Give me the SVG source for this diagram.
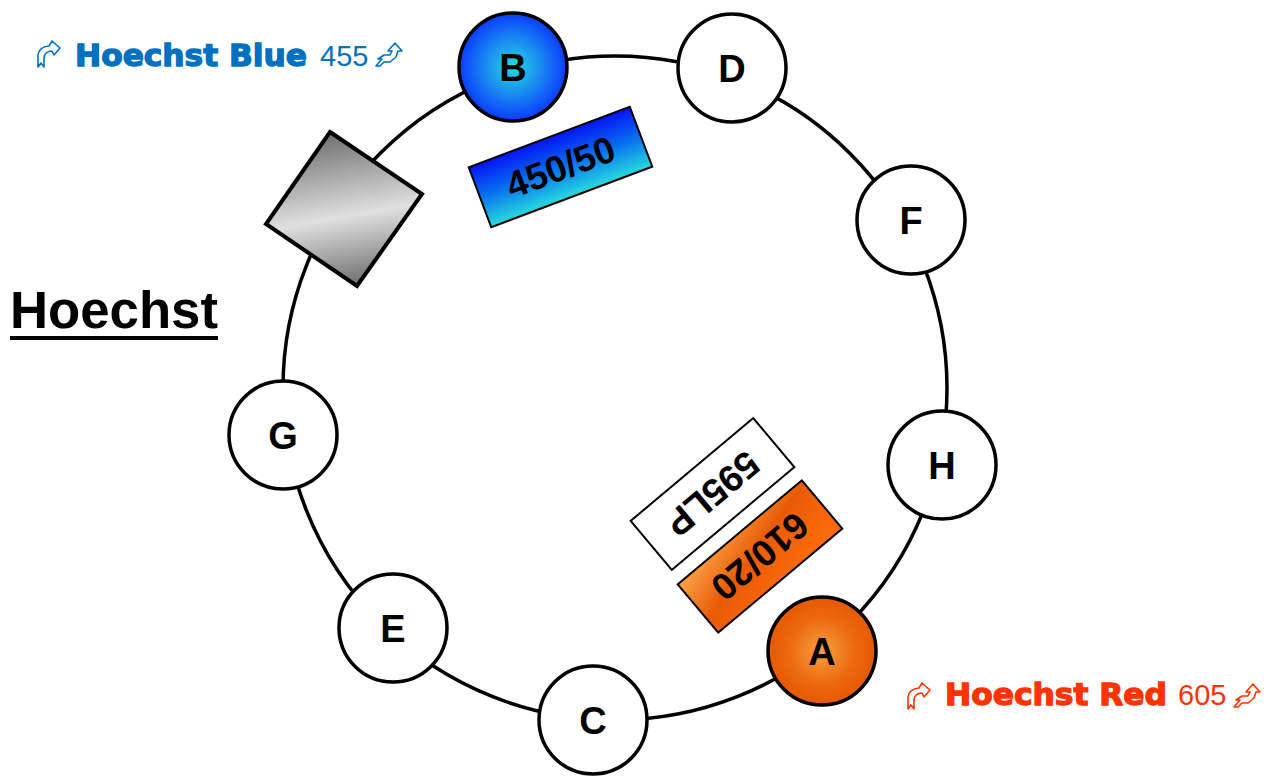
<svg xmlns="http://www.w3.org/2000/svg" xmlns:xlink="http://www.w3.org/1999/xlink" width="1279" height="777" viewBox="0 0 1279 777">
<style>
.node{stroke:#000;stroke-width:3.5}
.lbl{font-family:"Liberation Sans",Arial,sans-serif;font-weight:bold;font-size:38px;text-anchor:middle;fill:#000}
.ftxt{font-family:"Liberation Sans",Arial,sans-serif;font-weight:bold;font-size:37px;text-anchor:middle;fill:#000}
.filt{stroke:#000;stroke-width:2}
.big{font-family:"DejaVu Sans","Liberation Sans",sans-serif;font-weight:bold;font-size:30px;stroke-width:1.3}
.num{font-family:"Liberation Sans",Arial,sans-serif;font-size:29px}
.ico{fill:none;stroke-width:1.6;stroke-linejoin:round}
</style>
<defs>
<radialGradient id="gB" cx="0.5" cy="0.5" r="0.5">
<stop offset="0" stop-color="#22dde0"/>
<stop offset="0.5" stop-color="#1a8cf0"/>
<stop offset="1" stop-color="#0a3cff"/>
</radialGradient>
<radialGradient id="gA" cx="0.5" cy="0.5" r="0.5">
<stop offset="0" stop-color="#f9a042"/>
<stop offset="0.6" stop-color="#ec6a10"/>
<stop offset="1" stop-color="#e65800"/>
</radialGradient>
<linearGradient id="gSq" gradientUnits="userSpaceOnUse" x1="330" y1="132" x2="357" y2="286">
<stop offset="0" stop-color="#6e6e6e"/>
<stop offset="0.55" stop-color="#e0e0e0"/>
<stop offset="1" stop-color="#6e6e6e"/>
</linearGradient>
<linearGradient id="gBlue" x1="0" y1="0" x2="0" y2="1">
<stop offset="0" stop-color="#0414f5"/>
<stop offset="0.5" stop-color="#0a70f0"/>
<stop offset="1" stop-color="#26dcdc"/>
</linearGradient>
<linearGradient id="gOr" x1="1" y1="1" x2="0.3" y2="0">
<stop offset="0" stop-color="#fba446"/>
<stop offset="0.5" stop-color="#e85a06"/>
<stop offset="1" stop-color="#fb6a0a"/>
</linearGradient>
<path id="icoL" class="ico" d="M0,27 L0,15 Q1,7 11,6 L14,1 L22,8 L16,15 L14,11 Q7,11 6,18 L6,27 L3,23 Z"/>
<path id="icoR" class="ico" d="M19,0 L26,8 L22,8 L20,14 L14,19 L8,19 L4,23 L0,23 L6,16 L2,16 L8,12 L14,12 L16,8 L12,8 Z"/>
</defs>
<rect width="1279" height="777" fill="#fff"/>

<g id="connectors">
<circle cx="615" cy="388" r="332" fill="none" stroke="#000" stroke-width="3.5"/>
</g>

<g id="mirror">
<polygon points="330,132 422,194 357,286 266,224" fill="url(#gSq)" stroke="#000" stroke-width="4"/>
</g>

<g id="node-B"><circle class="node" cx="513" cy="67" r="54" fill="url(#gB)"/><text class="lbl" x="513" y="81">B</text></g>
<g id="node-D"><circle class="node" cx="732" cy="68" r="54" fill="#fff"/><text class="lbl" x="732" y="82">D</text></g>
<g id="node-F"><circle class="node" cx="911" cy="220" r="54" fill="#fff"/><text class="lbl" x="911" y="234">F</text></g>
<g id="node-H"><circle class="node" cx="942" cy="465" r="54" fill="#fff"/><text class="lbl" x="942" y="479">H</text></g>
<g id="node-A"><circle class="node" cx="822" cy="651" r="54" fill="url(#gA)"/><text class="lbl" x="822" y="665">A</text></g>
<g id="node-C"><circle class="node" cx="593" cy="720" r="54" fill="#fff"/><text class="lbl" x="593" y="734">C</text></g>
<g id="node-E"><circle class="node" cx="393" cy="628" r="54" fill="#fff"/><text class="lbl" x="393" y="642">E</text></g>
<g id="node-G"><circle class="node" cx="283" cy="435" r="54" fill="#fff"/><text class="lbl" x="283" y="449">G</text></g>

<g id="filter-450-50" transform="translate(560.5,167) rotate(-20.6)">
<rect class="filt" x="-86" y="-32" width="172" height="64" fill="url(#gBlue)"/>
<text class="ftxt" x="0" y="13">450/50</text>
</g>
<g id="filter-595LP" transform="translate(712.5,494) rotate(140)">
<rect class="filt" x="-80" y="-32" width="160" height="64" fill="#fff"/>
<text class="ftxt" x="0" y="13">595LP</text>
</g>
<g id="filter-610-20" transform="translate(760,556.5) rotate(140)">
<rect class="filt" x="-81" y="-31.5" width="162" height="63" fill="url(#gOr)"/>
<text class="ftxt" x="0" y="13">610/20</text>
</g>

<g id="title">
<text x="10" y="328" font-family="Liberation Sans,Arial,sans-serif" font-weight="bold" font-size="51" textLength="208" lengthAdjust="spacingAndGlyphs" fill="#000">Hoechst</text>
<rect x="10" y="336" width="208" height="4" fill="#000"/>
</g>

<g id="label-blue" fill="#0070c0" stroke="#0070c0">
<use xlink:href="#icoL" x="38" y="40"/>
<text class="big" x="75" y="66" textLength="232" lengthAdjust="spacingAndGlyphs">Hoechst Blue</text>
<text class="num" x="320" y="66" stroke="none">455</text>
<use xlink:href="#icoR" x="376" y="43"/>
</g>

<g id="label-red" fill="#ff3300" stroke="#ff3300">
<use xlink:href="#icoL" x="908" y="682"/>
<text class="big" x="945" y="705" textLength="222" lengthAdjust="spacingAndGlyphs">Hoechst Red</text>
<text class="num" x="1178" y="705" stroke="none">605</text>
<use xlink:href="#icoR" x="1234" y="684"/>
</g>
</svg>
